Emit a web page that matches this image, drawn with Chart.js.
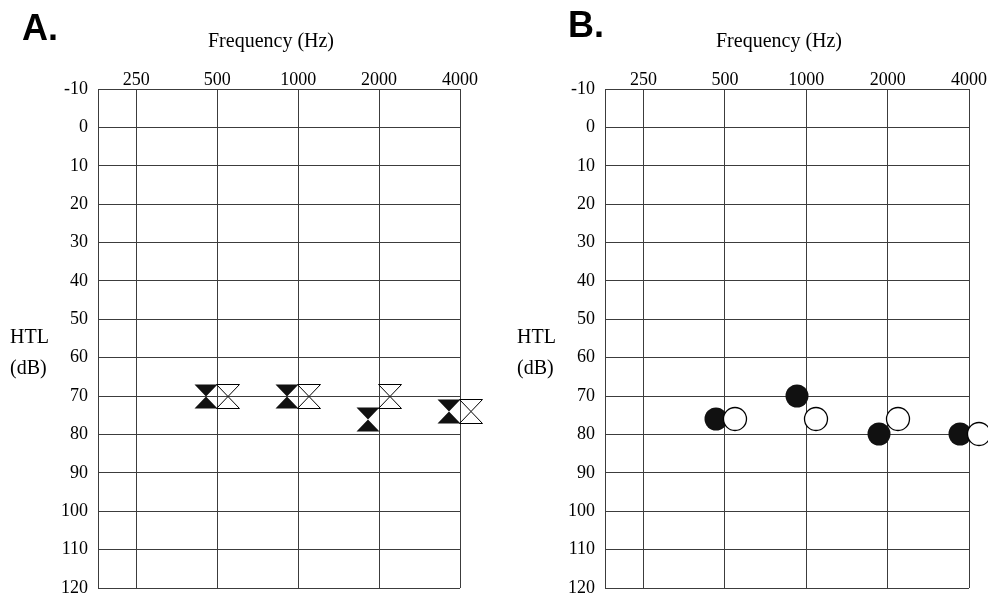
<!DOCTYPE html>
<html>
<head>
<meta charset="utf-8">
<script src="https://cdn.jsdelivr.net/npm/chart.js@4"></script>
<style>
  body { margin: 0; background: #fff; }
  #wrap { position: relative; width: 988px; height: 601px; }
  canvas { position: absolute; top: 0; }
  #chartA { left: 0; }
  #chartB { left: 507px; }
</style>
</head>
<body>
<div id="wrap">
  <canvas id="chartA" width="507" height="601"></canvas>
  <canvas id="chartB" width="481" height="601"></canvas>
</div>
<script>
// Frequenze (Hz) sull'asse x e soglie in dB sull'asse y
const freqLabels = [250, 500, 1000, 2000, 4000];
const testFreqs = [500, 1000, 2000, 4000];
const dbMin = -10;
const dbMax = 120;
const dbStep = 10;

// Pannello A: simboli pieni e vuoti
const aFilled = [70, 70, 76, 74];
const aOpen = [70, 70, 70, 74];

// Pannello B: cerchi pieni e vuoti
const bFilled = [76, 70, 80, 80];
const bOpen = [76, 76, 76, 80];

const gridColor = "#3c3c3c";
const serif = "'Liberation Serif', 'Times New Roman', serif";

// Crea il simbolo (clessidra o cerchio) spostato di "shift" px rispetto al punto
function makeMarker(shape, filled, shift) {
  const w = 24, h = 24;
  const c = document.createElement("canvas");
  c.width = 2 * (Math.abs(shift) + w / 2 + 2);
  c.height = h + 4;
  const ctx = c.getContext("2d");
  const cx = c.width / 2 + shift;
  const cy = c.height / 2;
  const l = cx - w / 2 + 0.5, r = cx + w / 2 - 0.5;
  const t = cy - h / 2 + 0.5, b = cy + h / 2 + 0.5;
  ctx.fillStyle = filled ? "#111" : "#fff";
  ctx.strokeStyle = "#000";
  ctx.lineWidth = 1;
  ctx.beginPath();
  if (shape === "bowtie") {
    ctx.moveTo(l, t);
    ctx.lineTo(r, t);
    ctx.lineTo(cx, cy + 0.5);
    ctx.closePath();
    ctx.moveTo(l, b);
    ctx.lineTo(r, b);
    ctx.lineTo(cx, cy + 0.5);
    ctx.closePath();
  } else {
    ctx.arc(cx, cy, 11.5, 0, Math.PI * 2);
    ctx.lineWidth = 1.3;
  }
  ctx.fill();
  if (!filled) ctx.stroke();
  return c;
}

// Testi extra: lettera del pannello, titolo e "HTL (dB)"
const labelsPlugin = {
  id: "labels",
  beforeDatasetsDraw(chart) {
    // niente sfumature quando i simboli cadono su mezzi pixel
    chart.ctx.imageSmoothingEnabled = false;
  },
  afterDraw(chart, args, opts) {
    const ctx = chart.ctx;
    const area = chart.chartArea;
    ctx.save();
    ctx.fillStyle = "#000";
    ctx.textBaseline = "alphabetic";
    ctx.textAlign = "left";
    ctx.font = "bold 36px 'Liberation Sans', Arial, sans-serif";
    ctx.fillText(opts.letter, opts.letterX, opts.letterY);
    ctx.font = "20px " + serif;
    ctx.fillText("HTL", 10, 343);
    ctx.fillText("(dB)", 10, 374);
    ctx.textAlign = "center";
    ctx.fillText("Frequency (Hz)", (area.left + area.right) / 2 - 8, 47);
    ctx.restore();
  },
};

function toPoints(values) {
  return testFreqs.map((f, i) => ({ x: f, y: values[i] }));
}

function audiogram(id, filled, open, shape, shifts, letter, padRight) {
  return new Chart(id, {
    type: "scatter",
    data: {
      datasets: [
        {
          label: "open",
          data: toPoints(open),
          pointStyle: makeMarker(shape, false, shifts[1]),
          pointRadius: 12,
          clip: false,
          order: 1,
        },
        {
          label: "filled",
          data: toPoints(filled),
          pointStyle: makeMarker(shape, true, shifts[0]),
          pointRadius: 12,
          clip: false,
          order: 2,
        },
      ],
    },
    options: {
      responsive: false,
      animation: false,
      layout: { padding: { top: 0, left: 0, right: padRight, bottom: 4 } },
      scales: {
        x: {
          type: "logarithmic",
          position: "top",
          min: 180,
          max: 4000,
          bounds: "data",
          afterBuildTicks: (s) => {
            s.ticks = freqLabels.map((v) => ({ value: v }));
          },
          afterFit: (s) => {
            s.height = 89;
            s.paddingLeft = 0;
            s.paddingRight = 0;
          },
          grid: { color: gridColor, drawTicks: false },
          border: { color: gridColor },
          ticks: {
            color: "#000",
            font: { family: serif, size: 18, lineHeight: 1 },
            padding: 0,
            maxRotation: 0,
            autoSkip: false,
            callback: (v) => String(v),
          },
        },
        y: {
          type: "linear",
          reverse: true,
          min: dbMin,
          max: dbMax,
          afterFit: (s) => {
            s.width = 98;
            s.paddingTop = 0;
            s.paddingBottom = 0;
          },
          grid: { color: gridColor, drawTicks: false },
          border: { color: gridColor },
          ticks: {
            stepSize: dbStep,
            color: "#000",
            font: { family: serif, size: 18, lineHeight: 1 },
            padding: 10,
          },
        },
      },
      plugins: {
        legend: { display: false },
        tooltip: { enabled: false },
        labels: letter,
      },
    },
    plugins: [labelsPlugin],
  });
}

audiogram("chartA", aFilled, aOpen, "bowtie", [-11, 11], { letter: "A.", letterX: 22, letterY: 40 }, 47);
audiogram("chartB", bFilled, bOpen, "circle", [-9, 10], { letter: "B.", letterX: 61, letterY: 37 }, 19);
</script>
</body>
</html>
